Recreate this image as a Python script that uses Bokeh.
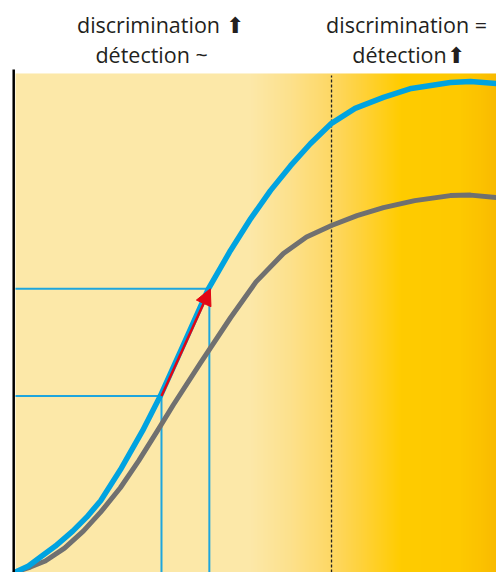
import numpy as np
from bokeh.plotting import figure
from bokeh.models import Range1d, Arrow, NormalHead
from bokeh.core.properties import value
from bokeh.embed import file_html
from bokeh.resources import INLINE

# Stimulus intensity (x) and performance (y), 0..100 scale
blue_x = [0, 2.7, 5.2, 8.3, 11.9, 14.8, 17.7, 21.8, 26.4, 30.1, 35.3, 40.1, 44.7, 48.9, 53.0, 57.2, 61.3, 65.7, 70.6, 76.5, 82.3, 90.4, 94.6, 100]
blue_y = [0, 1.2, 3.0, 5.2, 8.2, 11.0, 14.3, 20.5, 28.3, 35.3, 46.4, 56.8, 64.5, 70.9, 76.5, 81.5, 85.9, 90.0, 93.0, 95.2, 97.0, 98.2, 98.4, 98.0]

gray_x = [0, 3.1, 6.2, 10.2, 14.1, 17.7, 21.8, 25.6, 29.5, 32.8, 38.5, 44.7, 50.0, 55.7, 60.5, 65.7, 71.0, 76.5, 83.0, 90.4, 94.6, 100]
gray_y = [0, 1.0, 2.2, 4.8, 8.2, 12.0, 16.9, 22.3, 28.3, 33.5, 42.0, 51.0, 58.2, 63.9, 67.2, 69.5, 71.5, 73.1, 74.5, 75.5, 75.6, 75.1]

guide_x = [30.35, 40.3]
guide_y = [35.3, 56.8]
threshold_x = 65.7

labels = ["discrimination \u2b06", "détection ~", "discrimination =", "détection\u2b06"]
label_x = [30.1, 28.3, 81.3, 81.7]
label_y = [109.8, 103.9, 109.8, 103.9]

p = figure(width=496, height=572, output_backend="svg", toolbar_location=None,
           x_axis_type=None, y_axis_type=None,
           x_range=Range1d(-3.119, 100), y_range=Range1d(-0.1, 114.64),
           min_border=0)
p.outline_line_color = None
p.grid.visible = False
p.background_fill_color = "white"
p.border_fill_color = "white"

# background gradient (styling)
N = 481
xs = np.linspace(0, 100, N)
stop_x = [0, 48.9, 57.2, 65.7, 71.7, 80.0, 92.5, 96.7, 100]
stop_c = np.array([[252, 232, 168], [252, 232, 168], [253, 225, 140], [254, 216, 100],
                   [255, 210, 60], [255, 204, 0], [254, 201, 0], [252, 194, 0], [249, 186, 0]])
r = np.interp(xs, stop_x, stop_c[:, 0]).astype(np.uint32)
g = np.interp(xs, stop_x, stop_c[:, 1]).astype(np.uint32)
b = np.interp(xs, stop_x, stop_c[:, 2]).astype(np.uint32)
img = ((255 << 24) | (b << 16) | (g << 8) | r).astype(np.uint32).reshape(1, N)
p.image_rgba(image=[img], x=0, y=-0.1, dw=100, dh=100.1)

# guides
guide_color = "#1DA6DE"
for gx, gy in zip(guide_x, guide_y):
    p.line([0, gx], [gy, gy], line_color=guide_color, line_width=2)
    p.line([gx, gx], [-0.1, gy], line_color=guide_color, line_width=2)

# threshold dashed line
p.line([threshold_x, threshold_x], [-0.1, 99.6], line_color="#222222", line_width=1.3, line_dash="3 2")

# curves
p.line(gray_x, gray_y, line_color="#707070", line_width=5, line_cap="round", line_join="round")
p.line(blue_x, blue_y, line_color="#00A3E0", line_width=5.5, line_cap="round", line_join="round")

# red arrow
p.add_layout(Arrow(end=NormalHead(size=16, fill_color="#E30613", line_color="#E30613"),
                   x_start=guide_x[0], y_start=guide_y[0], x_end=guide_x[1] + 0.2, y_end=guide_y[1],
                   line_color="#E30613", line_width=2.5))

# left black axis line
p.line([-0.374, -0.374], [-0.1, 100.8], line_color="black", line_width=2.5)

# header labels
p.text(x=label_x, y=label_y, text=labels, text_align="center", text_baseline="alphabetic",
       text_font=value("Open Sans"), text_font_size="21.5px", text_color="#231F20")

open("out.html", "w").write(file_html(p, INLINE))
